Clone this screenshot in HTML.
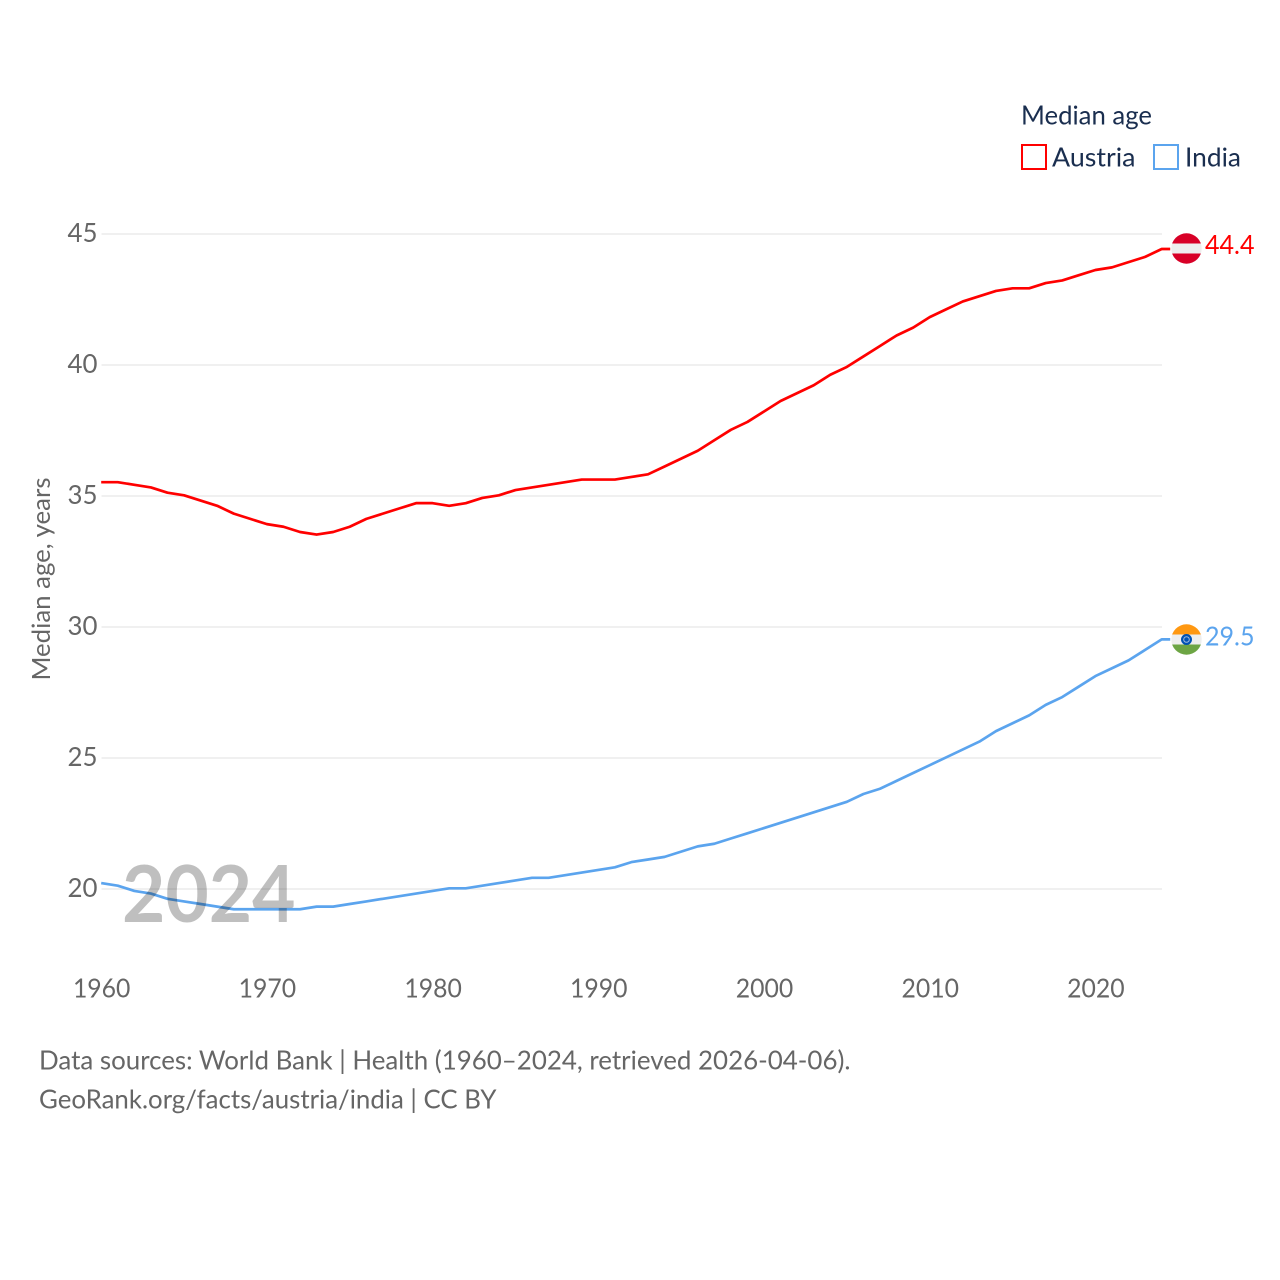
<!DOCTYPE html>
<html lang="en">
<head>
<meta charset="utf-8">
<title>Median age: Austria and India</title>
<style>
  html, body { margin: 0; padding: 0; background: #fff; }
  svg { display: block; }
  text { font-family: "Lato", "Carlito", "Liberation Sans", sans-serif; }
</style>
</head>
<body>
<svg id="chart" xmlns="http://www.w3.org/2000/svg" width="1280" height="1280" viewBox="0 0 1280 1280">
  <rect x="0" y="0" width="1280" height="1280" fill="#ffffff"/>
  <g id="grid"></g>
  <g id="y-ticks"></g>
  <g id="x-ticks"></g>
  <g id="series" transform="translate(-0.3,-0.7)"></g>

  <text x="122" y="922" font-size="79" font-weight="700" fill="#000000" fill-opacity="0.25" textLength="173.5" lengthAdjust="spacingAndGlyphs">2024</text>

  <text transform="translate(50,680.5) rotate(-90)" font-size="25.5" fill="#666666" textLength="203" lengthAdjust="spacingAndGlyphs">Median age, years</text>

  <g>
    <text x="1021" y="124.5" font-size="26.5" fill="#1a2e4f" textLength="131" lengthAdjust="spacingAndGlyphs">Median age</text>
    <rect x="1022" y="145" width="24" height="24" fill="#ffffff" stroke="#ff0000" stroke-width="2"/>
    <text x="1052" y="166.5" font-size="26.5" fill="#1a2e4f" textLength="83.5" lengthAdjust="spacingAndGlyphs">Austria</text>
    <rect x="1154" y="145" width="24" height="24" fill="#ffffff" stroke="#5ba4ee" stroke-width="2"/>
    <text x="1185" y="166.5" font-size="26.5" fill="#1a2e4f" textLength="56" lengthAdjust="spacingAndGlyphs">India</text>
  </g>

  <defs>
    <clipPath id="clip-at"><circle cx="1186.5" cy="248.5" r="15.2"/></clipPath>
    <clipPath id="clip-in"><circle cx="1186.5" cy="639.5" r="15.2"/></clipPath>
  </defs>
  <g clip-path="url(#clip-at)">
    <rect x="1171" y="233" width="31" height="10.5" fill="#d80027"/>
    <rect x="1171" y="243.5" width="31" height="10" fill="#eeeeee"/>
    <rect x="1171" y="253.5" width="31" height="11" fill="#d80027"/>
  </g>
  <g clip-path="url(#clip-in)">
    <rect x="1171" y="624" width="31" height="10.5" fill="#ff9811"/>
    <rect x="1171" y="634.5" width="31" height="10" fill="#eeeeee"/>
    <rect x="1171" y="644.5" width="31" height="11" fill="#6da544"/>
    <circle cx="1186.5" cy="639.5" r="5.5" fill="#0052b4"/>
    <circle cx="1186.5" cy="639.5" r="2.8" fill="#0052b4" stroke="#9db8dc" stroke-width="1"/>
  </g>

  <g id="end-labels"></g>

  <g>
    <text x="39" y="1069.5" font-size="26.5" fill="#666666" textLength="811.5" lengthAdjust="spacingAndGlyphs">Data sources: World Bank | Health (1960–2024, retrieved 2026-04-06).</text>
    <text x="39" y="1108.5" font-size="26.5" fill="#666666" textLength="457.5" lengthAdjust="spacingAndGlyphs">GeoRank.org/facts/austria/india | CC BY</text>
  </g>
</svg>

<script>
const years = [1960,1961,1962,1963,1964,1965,1966,1967,1968,1969,1970,1971,1972,1973,1974,1975,1976,1977,1978,1979,1980,1981,1982,1983,1984,1985,1986,1987,1988,1989,1990,1991,1992,1993,1994,1995,1996,1997,1998,1999,2000,2001,2002,2003,2004,2005,2006,2007,2008,2009,2010,2011,2012,2013,2014,2015,2016,2017,2018,2019,2020,2021,2022,2023,2024];
const austriaValues = [35.5,35.5,35.4,35.3,35.1,35.0,34.8,34.6,34.3,34.1,33.9,33.8,33.6,33.5,33.6,33.8,34.1,34.3,34.5,34.7,34.7,34.6,34.7,34.9,35.0,35.2,35.3,35.4,35.5,35.6,35.6,35.6,35.7,35.8,36.1,36.4,36.7,37.1,37.5,37.8,38.2,38.6,38.9,39.2,39.6,39.9,40.3,40.7,41.1,41.4,41.8,42.1,42.4,42.6,42.8,42.9,42.9,43.1,43.2,43.4,43.6,43.7,43.9,44.1,44.4];
const indiaValues = [20.2,20.1,19.9,19.8,19.6,19.5,19.4,19.3,19.2,19.2,19.2,19.2,19.2,19.3,19.3,19.4,19.5,19.6,19.7,19.8,19.9,20.0,20.0,20.1,20.2,20.3,20.4,20.4,20.5,20.6,20.7,20.8,21.0,21.1,21.2,21.4,21.6,21.7,21.9,22.1,22.3,22.5,22.7,22.9,23.1,23.3,23.6,23.8,24.1,24.4,24.7,25.0,25.3,25.6,26.0,26.3,26.6,27.0,27.3,27.7,28.1,28.4,28.7,29.1,29.5];
const yTickValues = [20,25,30,35,40,45];
const xTickValues = [1960,1970,1980,1990,2000,2010,2020];

const NS = 'http://www.w3.org/2000/svg';
const xScale = function (year) { return 101.5 + (year - 1960) * (1162 - 101.5) / 64; };
const yScale = function (value) { return 889 - (value - 20) * (889 - 234) / 25; };

function make(tag, parent, attrs, content) {
  const el = document.createElementNS(NS, tag);
  for (const key in attrs) { el.setAttribute(key, attrs[key]); }
  if (content !== undefined) { el.textContent = content; }
  parent.appendChild(el);
  return el;
}

const gridGroup = document.getElementById('grid');
const yTickGroup = document.getElementById('y-ticks');
yTickValues.forEach(function (v) {
  const line = make('line', gridGroup, { x1: 101.5, x2: 1162, y1: yScale(v), y2: yScale(v), stroke: '#ebebeb', 'stroke-width': 1.5 });
  
  
  const label = make('text', yTickGroup, { x: 97.5, y: yScale(v) + 8, 'text-anchor': 'end', 'font-size': 26.5, fill: '#666666', textLength: 30, lengthAdjust: 'spacingAndGlyphs' }, String(v));
  
  
});

const xTickGroup = document.getElementById('x-ticks');
xTickValues.forEach(function (y) {
  const label = make('text', xTickGroup, { x: xScale(y) + 0.2, y: 997.5, 'text-anchor': 'middle', 'font-size': 26.5, fill: '#666666', textLength: 57.5, lengthAdjust: 'spacingAndGlyphs' }, String(y));
  
  
});

function seriesPath(values) {
  let d = '';
  values.forEach(function (v, i) {
    d += (i === 0 ? 'M' : 'L') + xScale(years[i]).toFixed(2) + ' ' + yScale(v).toFixed(2);
  });
  const last = values[values.length - 1];
  d += 'L' + (xScale(years[years.length - 1]) + 8.5) + ' ' + yScale(last).toFixed(2);
  return d;
}

const seriesGroup = document.getElementById('series');
const austriaLine = make('path', seriesGroup, { d: seriesPath(austriaValues), fill: 'none', stroke: '#ff0000', 'stroke-width': 2.7, 'stroke-linejoin': 'round' });


const indiaLine = make('path', seriesGroup, { d: seriesPath(indiaValues), fill: 'none', stroke: '#5ba4ee', 'stroke-width': 2.7, 'stroke-linejoin': 'round' });



const endGroup = document.getElementById('end-labels');
const austriaEnd = make('text', endGroup, { x: 1205, y: 254, 'font-size': 26.5, fill: '#ff0000', textLength: 49.5, lengthAdjust: 'spacingAndGlyphs' }, austriaValues[austriaValues.length - 1].toFixed(1));


const indiaEnd = make('text', endGroup, { x: 1205, y: 645.5, 'font-size': 26.5, fill: '#5ba4ee', textLength: 49.5, lengthAdjust: 'spacingAndGlyphs' }, indiaValues[indiaValues.length - 1].toFixed(1));


</script>
</body>
</html>
